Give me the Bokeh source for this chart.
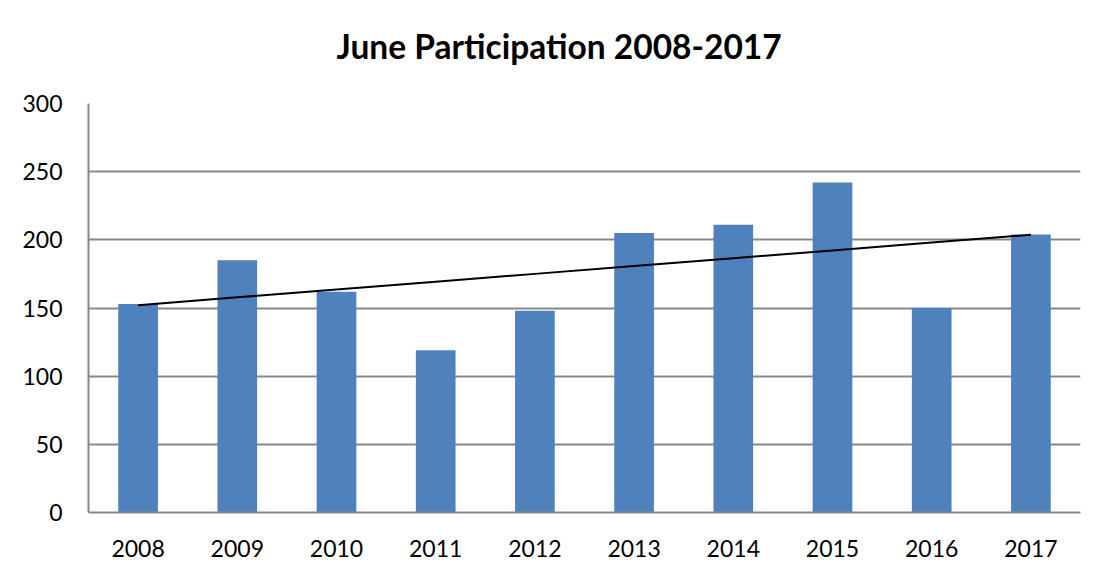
import numpy as np
from bokeh.plotting import figure
from bokeh.models import ColumnDataSource, FixedTicker, Range1d
from bokeh.embed import file_html
from bokeh.resources import INLINE

years = ["2008", "2009", "2010", "2011", "2012", "2013", "2014", "2015", "2016", "2017"]
participants = [153, 185, 162, 119, 148, 205, 211, 242, 150, 204]
y_ticks = [0, 50, 100, 150, 200, 250, 300]
title_text = "June Participation 2008-2017"

# linear trend line (least squares) through the series
xi = np.arange(len(years))
slope, intercept = np.polyfit(xi, participants, 1)
trend = list(intercept + slope * xi)

src = ColumnDataSource(data=dict(year=years, value=participants, trend=trend))

FONT = "Lato"
GRID = "#878787"

p = figure(x_range=years, y_range=Range1d(0, 300),
           frame_width=992, frame_height=409,
           min_border_left=88, min_border_right=9,
           min_border_top=103, min_border_bottom=57,
           output_backend="svg", toolbar_location=None,
           background_fill_color="white", border_fill_color="white")

# trailing empty line lifts the title away from the plot area
p.title.text = title_text + "\n "
p.title.align = "left"
p.title.offset = 248
p.title.vertical_align = "middle"
p.title.text_font = FONT
p.title.text_font_style = "bold"
p.title.text_font_size = "33.5px"
p.title.text_color = "black"
p.title.standoff = -6

p.vbar(x="year", top="value", width=0.4, source=src,
       fill_color="#4F81BD", line_color="#4F81BD", line_width=0)
p.line(x="year", y="trend", source=src, line_color="black", line_width=2)

p.outline_line_color = None
p.xgrid.grid_line_color = None
p.ygrid.grid_line_color = GRID
p.ygrid.grid_line_width = 2
p.yaxis.ticker = FixedTicker(ticks=y_ticks)

for ax in (p.xaxis, p.yaxis):
    ax.axis_line_color = GRID
    ax.axis_line_width = 2
    ax.major_tick_line_color = None
    ax.minor_tick_line_color = None
    ax.major_tick_out = 0
    ax.major_tick_in = 0
    ax.major_label_text_font = FONT
    ax.major_label_text_font_size = "23px"
    ax.major_label_text_color = "black"

p.yaxis.major_label_standoff = 26
p.xaxis.major_label_standoff = 27
p.x_range.range_padding = 0

open("out.html", "w").write(file_html(p, INLINE))
